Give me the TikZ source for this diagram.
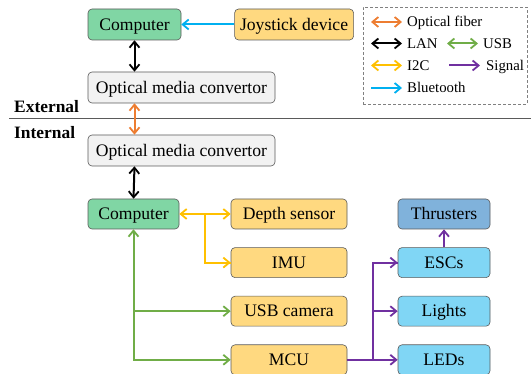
\documentclass[tikz,border=0pt]{standalone}
\usepackage{fontspec}
\setmainfont{Liberation Serif}
\usetikzlibrary{arrows.meta,positioning,calc}
\definecolor{ink}{RGB}{90,90,90}
\definecolor{pcgreen}{RGB}{128,214,164}
\definecolor{devyel}{RGB}{255,217,128}
\definecolor{convgray}{RGB}{242,242,242}
\definecolor{actblue}{RGB}{128,214,245}
\definecolor{thrblue}{RGB}{128,178,219}
\definecolor{fiber}{RGB}{237,125,49}
\definecolor{bt}{RGB}{0,176,240}
\definecolor{i2cyel}{RGB}{255,192,0}
\definecolor{usbgreen}{RGB}{112,173,71}
\definecolor{sigpurple}{RGB}{112,48,160}
\tikzset{
  box/.style={draw=ink,rounded corners=4pt,line width=0.6pt,inner sep=0pt,
    minimum height=31pt,font=\fontsize{17.6}{19}\selectfont,align=center,
    text height=13pt,text depth=1.4pt},
  tip/.tip={Straight Barb[length=6pt,width=10pt,line width=1.8pt]},
  wire/.style={line width=2pt},
  fib/.style={wire,fiber,tip-tip},
  lan/.style={wire,black,tip-tip},
  i2c/.style={wire,i2cyel,tip-tip},
  usb/.style={wire,usbgreen,tip-tip},
  sig/.style={wire,sigpurple,-tip},
  blue/.style={wire,bt,-tip},
  key/.style={font=\fontsize{14.8}{16}\selectfont,anchor=base west,inner sep=0pt},
  side/.style={font=\fontsize{17.4}{19}\selectfont\bfseries,anchor=base west,inner sep=0pt},
}

\begin{document}
\begin{tikzpicture}[x=1pt,y=1pt]
  \useasboundingbox (0,0) rectangle (531,-374);
  % external side
  \node[box,fill=pcgreen,minimum width=93pt] (pc1) at (134.5,-24.5) {Computer};
  \node[box,fill=devyel,minimum width=119pt,right=53pt of pc1] (joy) {Joystick device};
  \node[box,fill=convgray,minimum width=187pt] (omc1) at (181.5,-87.5) {Optical media convertor};
  % internal side
  \node[box,fill=convgray,minimum width=187pt] (omc2) at (181.5,-150.5) {Optical media convertor};
  \node[box,fill=pcgreen,minimum width=91pt,minimum height=30pt] (pc2) at (133.5,-214) {Computer};
  \node[box,fill=devyel,minimum width=116pt,minimum height=30pt] (depth) at (289,-214) {Depth sensor};
  \node[box,fill=devyel,minimum width=116pt,minimum height=30pt,below=18pt of depth] (imu) {IMU};
  \node[box,fill=devyel,minimum width=116pt,minimum height=30pt,below=18pt of imu] (cam) {USB camera};
  \node[box,fill=devyel,minimum width=116pt,minimum height=30pt,below=18pt of cam] (mcu) {MCU};
  \node[box,fill=thrblue,minimum width=92pt,minimum height=30pt] (thr) at (444,-214) {Thrusters};
  \node[box,fill=actblue,minimum width=92pt,minimum height=30pt,below=18pt of thr] (esc) {ESCs};
  \node[box,fill=actblue,minimum width=92pt,minimum height=30pt,below=18pt of esc] (lights) {Lights};
  \node[box,fill=actblue,minimum width=92pt,minimum height=30pt,below=18pt of lights] (leds) {LEDs};
  % boundary
  \draw[ink,line width=0.7pt] (9,-118) -- (531,-118);
  \node[side] (ext) at (14,-112.5) {External};
  \node[side] (int) at (14,-139) {Internal};
  % links
  \draw[blue] (joy.west) -- (pc1.east);
  \draw[lan] (pc1.south) -- (pc1.south |- omc1.north);
  \draw[fib] (pc1.south |- omc1.south) -- (pc1.south |- omc2.north);
  \draw[lan] (pc1.south |- omc2.south) -- (pc2.north);
  \draw[i2c] (pc2.east) -- (depth.west);
  \draw[i2c,-] ($(pc2.east)!0.5!(depth.west)$) coordinate (ib) |- (imu.west);
  \draw[i2c,-tip] (ib |- imu.west) -- (imu.west);
  \draw[usb] (pc2.south) |- (mcu.west);
  \draw[usb,-tip] (pc2.south |- cam.west) -- (cam.west);
  \coordinate (sb) at ($(mcu.east)!0.5!(leds.west)$);
  \draw[sig,-] (mcu.east) -- (sb) |- (esc.west);
  \draw[sig] (sb |- esc.west) -- (esc.west);
  \draw[sig] (sb |- lights.west) -- (lights.west);
  \draw[sig] (sb) -- (leds.west);
  \draw[sig] (esc.north) -- (thr.south);
  % legend
  \node[draw=gray,densely dashed,line width=0.6pt,minimum width=164pt,minimum height=97pt,
    inner sep=0pt] (legend) at (445,-55.5) {};
  \coordinate (k1a) at (371,-22); \coordinate (k1b) at (402,-22);
  \coordinate (k2a) at (371,-43.5); \coordinate (k2b) at (402,-43.5);
  \coordinate (k3a) at (447,-43.5); \coordinate (k3b) at (478,-43.5);
  \coordinate (k4a) at (371,-65.5); \coordinate (k4b) at (402,-65.5);
  \coordinate (k5a) at (449,-65.5); \coordinate (k5b) at (480,-65.5);
  \coordinate (k6a) at (371,-88); \coordinate (k6b) at (402,-88);
  \draw[fib] (k1a) -- (k1b); \node[key] (t1) at (407,-27) {Optical fiber};
  \draw[lan] (k2a) -- (k2b); \node[key] (t2) at (407,-48.5) {LAN};
  \draw[usb] (k3a) -- (k3b); \node[key] (t3) at (483,-48.5) {USB};
  \draw[i2c] (k4a) -- (k4b); \node[key] (t4) at (407,-70.5) {I2C};
  \draw[sig] (k5a) -- (k5b); \node[key] (t5) at (486,-70.5) {Signal};
  \draw[blue] (k6a) -- (k6b); \node[key] (t6) at (407,-93) {Bluetooth};
\end{tikzpicture}
\end{document}
